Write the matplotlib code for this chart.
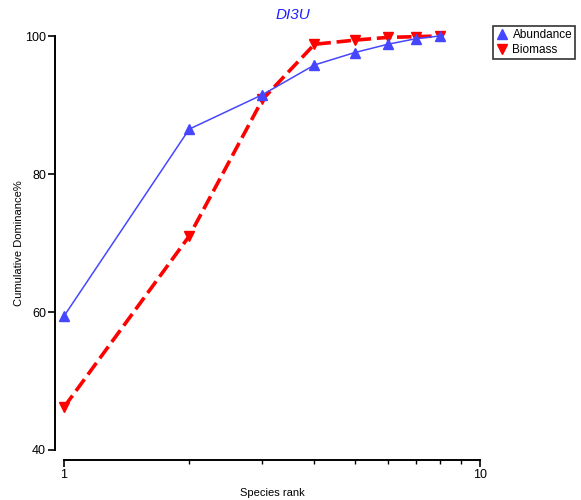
import matplotlib
matplotlib.use("Agg")
import matplotlib.pyplot as plt
from matplotlib.ticker import FixedLocator, NullFormatter

plt.rcParams['font.family'] = ['Liberation Sans', 'DejaVu Sans']

rank = [1, 2, 3, 4, 5, 6, 7, 8]
abundance = [59.4, 86.5, 91.5, 95.8, 97.6, 98.8, 99.6, 100.0]
biomass = [46.2, 71.0, 90.8, 98.8, 99.4, 99.8, 99.9, 100.0]

fig = plt.figure(figsize=(5.81, 5.0), dpi=100)
ax = fig.add_axes([64 / 581, 50 / 500, 416 / 581, 414 / 500])

blue = "#4646FF"
red = "#FF0000"
ax.plot(rank, abundance, color=blue, lw=1.1, marker="^", ms=7.5,
        markeredgecolor=blue, label="Abundance", clip_on=False, zorder=3)
ax.plot(rank, biomass, color=red, lw=2.6, ls=(0, (4, 1.6)), marker="v", ms=7.5,
        markeredgecolor=red, label="Biomass", clip_on=False, zorder=2)

ax.set_xscale("log")
ax.set_xlim(1, 10)
ax.set_ylim(40, 100)
ax.xaxis.set_major_locator(FixedLocator([1, 10]))
ax.xaxis.set_minor_locator(FixedLocator(range(2, 10)))
ax.xaxis.set_minor_formatter(NullFormatter())
ax.set_xticklabels(["1", "10"])
ax.set_yticks([40, 60, 80, 100])

for s in ["top", "right"]:
    ax.spines[s].set_visible(False)
ax.spines["left"].set_position(("outward", 6.5))
ax.spines["bottom"].set_position(("outward", 7.2))
ax.spines["left"].set_linewidth(1.4)
ax.spines["bottom"].set_linewidth(1.4)
ax.tick_params(axis="both", which="major", direction="out", length=5, width=1.2,
               labelsize=9, pad=1.5)
ax.tick_params(axis="x", which="minor", direction="out", length=3, width=1.0)

ax.set_xlabel("Species rank", fontsize=8, labelpad=5)
ax.set_ylabel("Cumulative Dominance%", fontsize=8, labelpad=1)
ax.set_title("DI3U", color="#2020FF", style="italic", fontsize=11, pad=12, x=0.55)

leg = fig.legend(loc="upper left", bbox_to_anchor=(493 / 581, 1 - 26 / 500),
                 fontsize=8.5, frameon=True, fancybox=False, edgecolor="black",
                 handlelength=1.0, handletextpad=0.4, borderpad=0.25,
                 labelspacing=0.3, borderaxespad=0)
leg.get_frame().set_linewidth(1.2)
for h in leg.legend_handles:
    h.set_linestyle("none")

fig.savefig("out.png", dpi=100)
